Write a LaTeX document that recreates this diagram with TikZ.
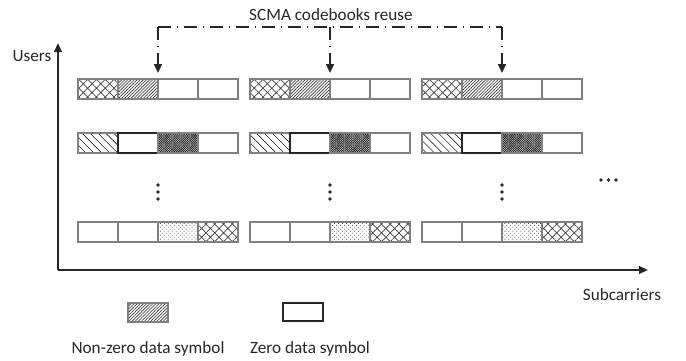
\documentclass[tikz,border=0pt]{standalone}
\usepackage{fontspec}
\setmainfont{Carlito}
\usetikzlibrary{patterns.meta,arrows.meta}
\begin{document}
\begin{tikzpicture}[x=0.5pt,y=-0.5pt,
  every node/.style={font=\fontsize{8.6}{10}\selectfont, text=black!85},
  cell/.style={draw=black!50, line width=0.75pt, minimum width=20pt, minimum height=10pt, inner sep=0pt, outer sep=0pt},
  pb/.style={},
  pzd/.style={draw=black!85},
  px/.style={pattern={Hatch[angle=45,distance=3.1pt,line width=0.35pt]}, pattern color=black!75},
  pne/.style={pattern={Lines[angle=45,distance=1.1pt,line width=0.3pt]}, pattern color=black!85},
  pnw/.style={pattern={Lines[angle=-45,distance=2.8pt,line width=0.3pt]}, pattern color=black!85},
  pchk/.style={pattern={Hatch[angle=45,distance=0.8pt,line width=0.32pt]}, pattern color=black!85},
  pdot/.style={pattern={Dots[angle=45,distance=1.4pt,radius=0.28pt]}, pattern color=black!70},
  axis/.style={draw=black!85, line width=1pt, -{Triangle[length=4.5pt,width=3.8pt]}},
  dd/.style={draw=black!85, line width=0.75pt, dash pattern=on 6.5pt off 3pt on 0.5pt off 3pt},
  arr/.style={draw=black!85, line width=0.75pt, -{Triangle[length=4.5pt,width=4pt]}, shorten >=3pt},
  dotmark/.style={circle, fill=black!85, inner sep=0pt, minimum size=1.8pt}
]
\useasboundingbox (0,0) rectangle (686,360);

% axes
\coordinate (O) at (58,270);
\coordinate (ytip) at (58,43);
\coordinate (xtip) at (648,270);
\draw[axis] (O) -- (ytip);
\draw[axis] (O) -- (xtip);
\node[anchor=base] (users) at (32,61) {Users};
\node[anchor=base] (subc) at (622,300) {Subcarriers};

% cells
\foreach \g in {0,1,2}{
  \foreach \s [count=\k from 0] in {px,pne,pb,pb}{
    \node[cell,\s] (c-\g-1-\k) at ({78+172*\g+20+40*\k},89) {};
  }
  \foreach \s [count=\k from 0] in {pnw,pzd,pchk,pb}{
    \node[cell,\s] (c-\g-2-\k) at ({78+172*\g+20+40*\k},143) {};
  }
  \foreach \s [count=\k from 0] in {pb,pb,pdot,px}{
    \node[cell,\s] (c-\g-4-\k) at ({78+172*\g+20+40*\k},232) {};
  }
  \foreach \yy [count=\i] in {185,192,199}{
    \node[dotmark] (v-\g-\i) at ({78+172*\g+80},\yy) {};
  }
}

% horizontal ellipsis
\node[dotmark] (h1) at (601,180) {};
\node[dotmark] (h2) at (608.5,180) {};
\node[dotmark] (h3) at (616,180) {};

% codebook reuse
\node[anchor=base] (reuse) at (331,20) {SCMA codebooks reuse};
\coordinate (j0) at (158,27);
\coordinate (j1) at (330,27);
\coordinate (j2) at (502,27);
\coordinate (m0) at (158,58);
\coordinate (m1) at (330,58);
\coordinate (m2) at (502,58);
\draw[dd] (j0) -- (j2);
\draw[dd] (j0) -- (m0);
\draw[dd] (j1) -- (m1);
\draw[dd] (j2) -- (m2);
\draw[arr] (m0) -- (c-0-1-1.north east);
\draw[arr] (m1) -- (c-1-1-1.north east);
\draw[arr] (m2) -- (c-2-1-1.north east);

% legend
\node[cell,pne,minimum height=9.5pt] (lnz) at (148,312.5) {};
\node[cell,pzd,minimum height=9pt] (lz) at (303,312) {};
\node[anchor=base] (lnzt) at (148,353) {Non-zero data symbol};
\node[anchor=base] (lzt) at (310,353) {Zero data symbol};
\end{tikzpicture}
\end{document}
